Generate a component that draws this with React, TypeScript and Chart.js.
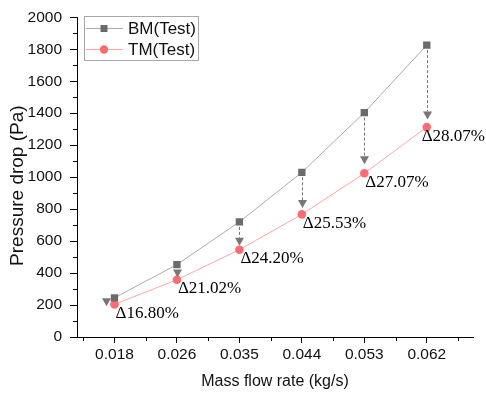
import React, { useEffect, useRef } from "react";
import { Chart, registerables } from "chart.js";

Chart.register(...registerables);

// ---- data ----
const xLabels = ["0.018", "0.026", "0.035", "0.044", "0.053", "0.062"];
const bmTest = [245, 453, 720, 1030, 1404, 1826];
const tmTest = [204, 358, 546, 767, 1024, 1313];
const deltaLabels = ["Δ16.80%", "Δ21.02%", "Δ24.20%", "Δ25.53%", "Δ27.07%", "Δ28.07%"];
const arrowTipPa = [193, 373, 571, 807, 1081, 1360];
const seriesNames = ["BM(Test)", "TM(Test)"];
const xTitle = "Mass flow rate (kg/s)";
const yTitle = "Pressure drop (Pa)";
const yMin = 0;
const yMax = 2000;
const yStep = 200;

// ---- styles ----
const SANS = "'Liberation Sans', Arial, sans-serif";
const SERIF = "'Liberation Serif', 'Times New Roman', serif";
const BM_LINE = "#ababab";
const BM_MARK = "#6b6b6b";
const TM_LINE = "#ffa6a6";
const TM_MARK = "#ff6b70";
const ARROW = "#777777";
const FIRST_ARROW_SHIFT = -0.13;

const deco = {
  id: "deco",
  afterDatasetsDraw(chart: any) {
    const { ctx } = chart;
    const x = chart.scales.x;
    const y = chart.scales.y;
    ctx.save();
    // arrows
    for (let i = 0; i < bmTest.length; i++) {
      const px = Math.round(x.getPixelForValue(i + (i === 0 ? FIRST_ARROW_SHIFT : 0))) + 0.5;
      const y0 = y.getPixelForValue(bmTest[i]) + 5;
      const tip = y.getPixelForValue(arrowTipPa[i]);
      const headH = 8;
      const headW = 4.5;
      ctx.strokeStyle = ARROW;
      ctx.fillStyle = ARROW;
      ctx.lineWidth = 1;
      ctx.setLineDash([3, 2]);
      if (tip - headH > y0) {
        ctx.beginPath();
        ctx.moveTo(px, y0);
        ctx.lineTo(px, tip - headH);
        ctx.stroke();
      }
      ctx.setLineDash([]);
      ctx.beginPath();
      ctx.moveTo(px - headW, tip - headH);
      ctx.lineTo(px + headW, tip - headH);
      ctx.lineTo(px, tip);
      ctx.closePath();
      ctx.fill();
    }
    // delta labels
    ctx.font = `17px ${SERIF}`;
    ctx.fillStyle = "#000";
    ctx.textAlign = "left";
    ctx.textBaseline = "middle";
    for (let i = 0; i < tmTest.length; i++) {
      const w = ctx.measureText(deltaLabels[i]).width;
      let lx = x.getPixelForValue(i) + 1;
      if (lx + w > chart.width - 1) lx = chart.width - 1 - w;
      const ly = y.getPixelForValue(tmTest[i]) + 9;
      ctx.fillText(deltaLabels[i], lx, ly);
    }
    ctx.restore();
  },
  afterDraw(chart: any) {
    const { ctx, chartArea } = chart;
    const x = chart.scales.x;
    const y = chart.scales.y;
    ctx.save();
    // minor ticks
    ctx.strokeStyle = "#000";
    ctx.lineWidth = 1;
    ctx.beginPath();
    for (let v = yMin + yStep / 2; v < yMax; v += yStep) {
      const py = Math.round(y.getPixelForValue(v)) + 0.5;
      ctx.moveTo(chartArea.left, py);
      ctx.lineTo(chartArea.left - 4, py);
    }
    for (let v = -0.5; v <= xLabels.length - 0.5; v += 1) {
      if (v < x.min || v > x.max) continue;
      const px = Math.round(x.getPixelForValue(v)) + 0.5;
      ctx.moveTo(px, chartArea.bottom);
      ctx.lineTo(px, chartArea.bottom + 4);
    }
    ctx.stroke();

    // axis titles
    ctx.fillStyle = "#111";
    ctx.font = `16px ${SANS}`;
    ctx.textAlign = "center";
    ctx.textBaseline = "middle";
    ctx.fillText(xTitle, (chartArea.left + chartArea.right) / 2, 382);
    ctx.save();
    ctx.translate(18, (chartArea.top + chartArea.bottom) / 2 + 8.5);
    ctx.rotate(-Math.PI / 2);
    ctx.font = `19px ${SANS}`;
    ctx.fillText(yTitle, 0, 0);
    ctx.restore();

    // legend
    const bx = chartArea.left + 7;
    const by = 16;
    ctx.strokeStyle = "#a8a8a8";
    ctx.lineWidth = 1;
    ctx.strokeRect(bx + 0.5, by + 0.5, 114, 44);
    const rows = [
      { y: by + 12, line: BM_LINE, mark: BM_MARK, square: true },
      { y: by + 33, line: TM_LINE, mark: TM_MARK, square: false },
    ];
    rows.forEach((r, k) => {
      ctx.strokeStyle = r.line;
      ctx.beginPath();
      ctx.moveTo(bx + 2, Math.round(r.y) + 0.5);
      ctx.lineTo(bx + 39, Math.round(r.y) + 0.5);
      ctx.stroke();
      ctx.fillStyle = r.mark;
      const cx = bx + 20;
      if (r.square) {
        ctx.fillRect(cx - 3.5, r.y - 3, 7, 7);
      } else {
        ctx.beginPath();
        ctx.arc(cx, r.y + 0.5, 4.2, 0, Math.PI * 2);
        ctx.fill();
      }
      ctx.fillStyle = "#111";
      ctx.font = `17px ${SANS}`;
      ctx.textAlign = "left";
      ctx.textBaseline = "middle";
      ctx.fillText(seriesNames[k], bx + 44, r.y + 1);
    });
    ctx.restore();
  },
};

export default function App() {
  const ref = useRef<HTMLCanvasElement | null>(null);
  useEffect(() => {
    document.body.style.margin = "0";
    const canvas = ref.current;
    if (!canvas) return;
    const yTickVals: number[] = [];
    for (let v = yMin; v <= yMax; v += yStep) yTickVals.push(v);
    const chart = new Chart(canvas, {
      type: "line",
      data: {
        datasets: [
          {
            label: seriesNames[0],
            data: bmTest.map((v, i) => ({ x: i, y: v })),
            borderColor: BM_LINE,
            borderWidth: 1,
            pointStyle: "rect",
            pointRadius: 5.2,
            pointBackgroundColor: BM_MARK,
            pointBorderColor: BM_MARK,
            pointBorderWidth: 0,
            tension: 0,
          },
          {
            label: seriesNames[1],
            data: tmTest.map((v, i) => ({ x: i, y: v })),
            borderColor: TM_LINE,
            borderWidth: 1,
            pointStyle: "circle",
            pointRadius: 4.3,
            pointBackgroundColor: TM_MARK,
            pointBorderColor: TM_MARK,
            pointBorderWidth: 0,
            tension: 0,
          },
        ],
      },
      options: {
        animation: false,
        responsive: false,
        devicePixelRatio: 1,
        layout: { padding: { top: 15, right: 13, left: 0, bottom: 0 } },
        plugins: { legend: { display: false }, tooltip: { enabled: false } },
        scales: {
          x: {
            type: "linear",
            min: -0.6,
            max: 5.74,
            afterBuildTicks: (scale: any) => {
              scale.ticks = xLabels.map((_, i) => ({ value: i }));
            },
            afterFit: (scale: any) => {
              scale.height = 56;
            },
            ticks: {
              callback: (v: any) => xLabels[Math.round(Number(v))] ?? "",
              font: { family: SANS, size: 15.5 },
              color: "#111",
              padding: 2,
              maxRotation: 0,
              autoSkip: false,
            },
            grid: {
              display: true,
              drawOnChartArea: false,
              drawTicks: true,
              tickLength: 6,
              tickColor: "#000",
            },
            border: { display: true, color: "#000", width: 1 },
          },
          y: {
            type: "linear",
            min: yMin,
            max: yMax,
            afterBuildTicks: (scale: any) => {
              scale.ticks = yTickVals.map((v) => ({ value: v }));
            },
            afterFit: (scale: any) => {
              scale.width = 77;
            },
            ticks: {
              callback: (v: any) => String(v),
              font: { family: SANS, size: 15.5 },
              color: "#111",
              padding: 8,
            },
            grid: {
              display: true,
              drawOnChartArea: false,
              drawTicks: true,
              tickLength: 7,
              tickColor: "#000",
            },
            border: { display: true, color: "#000", width: 1 },
          },
        },
      },
      plugins: [deco],
    });
    return () => chart.destroy();
  }, []);
  return <canvas ref={ref} width={486} height={393} style={{ display: "block" }} />;
}
